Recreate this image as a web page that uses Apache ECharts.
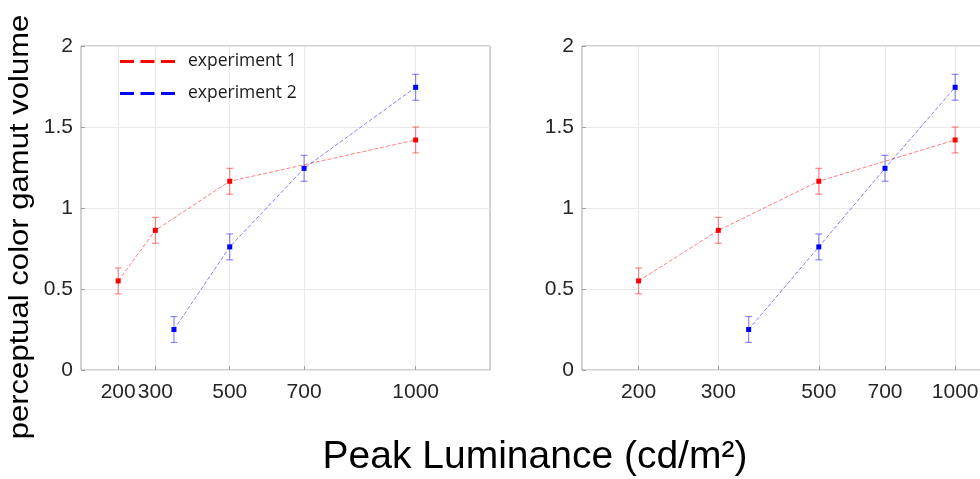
<!DOCTYPE html>
<html><head><meta charset="utf-8">
<script src="https://cdn.jsdelivr.net/npm/echarts@6/dist/echarts.min.js"></script>
<style>html,body{margin:0;padding:0;background:#fff}#c{width:980px;height:479px}</style>
</head><body><div id="c"></div>
<script>
// ---- data ----
const xTicks = [200, 300, 500, 700, 1000];
const exp1X = [200, 300, 500, 1000];
const exp1Y = [0.55, 0.862, 1.165, 1.42];
const exp1Err = [0.08, 0.08, 0.08, 0.08];
const exp2X = [350, 500, 700, 1000];
const exp2Y = [0.25, 0.76, 1.245, 1.745];
const exp2Err = [0.08, 0.08, 0.08, 0.08];
const seriesNames = ['experiment 1', 'experiment 2'];

const RED = '#ff0000', BLUE = '#0000ff';
const FONT = 'Liberation Sans, Arial, sans-serif';

function lineSeries(name, xs, ys, color, fade, idx) {
  return {
    type: 'line', name: name, xAxisIndex: idx, yAxisIndex: idx,
    data: xs.map((x, i) => [x, ys[i]]),
    symbol: 'rect', symbolSize: 5,
    itemStyle: { color: color },
    lineStyle: { color: fade, width: 1, type: [4, 2] },
    z: 4, animation: false, silent: true
  };
}
function errSeries(name, xs, ys, es, color, idx) {
  return {
    type: 'custom', name: name, xAxisIndex: idx, yAxisIndex: idx,
    data: xs.map((x, i) => [x, ys[i] - es[i], ys[i] + es[i]]),
    renderItem: function (params, api) {
      const lo = api.coord([api.value(0), api.value(1)]);
      const hi = api.coord([api.value(0), api.value(2)]);
      const w = 3.5;
      const st = { stroke: color, lineWidth: 1.2 };
      return { type: 'group', children: [
        { type: 'line', shape: { x1: lo[0], y1: lo[1], x2: hi[0], y2: hi[1] }, style: st },
        { type: 'line', shape: { x1: lo[0] - w, y1: lo[1], x2: lo[0] + w, y2: lo[1] }, style: st },
        { type: 'line', shape: { x1: hi[0] - w, y1: hi[1], x2: hi[0] + w, y2: hi[1] }, style: st }
      ]};
    },
    z: 3, animation: false, silent: true
  };
}

const gridLine = { show: true, lineStyle: { color: '#e9e9e9', width: 1 } };
const yAxisBase = {
  type: 'value', min: 0, max: 2, interval: 0.5,
  axisLine: { show: false },
  axisTick: { show: true, inside: true, length: 4, lineStyle: { color: '#a0a0a0' } },
  axisLabel: { fontSize: 21, fontFamily: FONT, color: '#262626', margin: 8 },
  splitLine: gridLine
};
function xAxisBase(idx, type, min, max) {
  return {
    type: type, gridIndex: idx, min: min, max: max, logBase: 10,
    axisLine: { show: false },
    axisTick: { show: true, inside: true, length: 4, lineStyle: { color: '#a0a0a0' }, customValues: xTicks },
    axisLabel: { fontSize: 21, fontFamily: FONT, color: '#262626', margin: 12, customValues: xTicks,
      formatter: v => String(Math.round(v)) },
    splitLine: gridLine
  };
}

const chart = echarts.init(document.getElementById('c'), null, { renderer: 'canvas' });
chart.setOption({
  animation: false,
  backgroundColor: '#ffffff',
  grid: [
    { left: 81, top: 46, width: 409, height: 324, show: true, borderColor: '#a3a3a3', borderWidth: 1, outerBoundsMode: 'none', containLabel: false },
    { left: 582, top: 46, width: 409, height: 324, show: true, borderColor: '#a3a3a3', borderWidth: 1, outerBoundsMode: 'none', containLabel: false }
  ],
  xAxis: [ xAxisBase(0, 'value', 100, 1200), xAxisBase(1, 'log', 150, 1200) ],
  yAxis: [ Object.assign({ gridIndex: 0 }, yAxisBase), Object.assign({ gridIndex: 1 }, yAxisBase) ],
  legend: {
    data: seriesNames, orient: 'vertical', left: 115, top: 47,
    icon: 'path://M0,0h14v3h-14z M20.5,0h14v3h-14z M41,0h14v3h-14z',
    itemWidth: 55, itemHeight: 3, itemGap: 13,
    textStyle: { fontSize: 17.5, fontFamily: 'Open Sans, sans-serif', color: '#1a1a1a', padding: [0, 0, 0, 8], lineHeight: 19 },
    selectedMode: false
  },
  series: [
    lineSeries(seriesNames[0], exp1X, exp1Y, RED, 'rgba(255,0,0,0.5)', 0),
    lineSeries(seriesNames[1], exp2X, exp2Y, BLUE, 'rgba(0,0,255,0.5)', 0),
    lineSeries(seriesNames[0], exp1X, exp1Y, RED, 'rgba(255,0,0,0.5)', 1),
    lineSeries(seriesNames[1], exp2X, exp2Y, BLUE, 'rgba(0,0,255,0.5)', 1),
    errSeries(seriesNames[0], exp1X, exp1Y, exp1Err, 'rgba(255,0,0,0.45)', 0),
    errSeries(seriesNames[1], exp2X, exp2Y, exp2Err, 'rgba(0,0,255,0.45)', 0),
    errSeries(seriesNames[0], exp1X, exp1Y, exp1Err, 'rgba(255,0,0,0.45)', 1),
    errSeries(seriesNames[1], exp2X, exp2Y, exp2Err, 'rgba(0,0,255,0.45)', 1)
  ],
  graphic: [
    { type: 'text', x: 21, y: 227, rotation: Math.PI / 2, scaleX: 1.15,
      style: { text: 'perceptual color gamut volume', align: 'center', verticalAlign: 'middle',
        fontSize: 27, fontFamily: FONT, fill: '#000' } },
    { type: 'text', x: 535, y: 457,
      style: { text: 'Peak Luminance (cd/m²)', align: 'center', verticalAlign: 'middle',
        fontSize: 39, fontFamily: FONT, fill: '#000' } }
  ]
});
</script></body></html>
